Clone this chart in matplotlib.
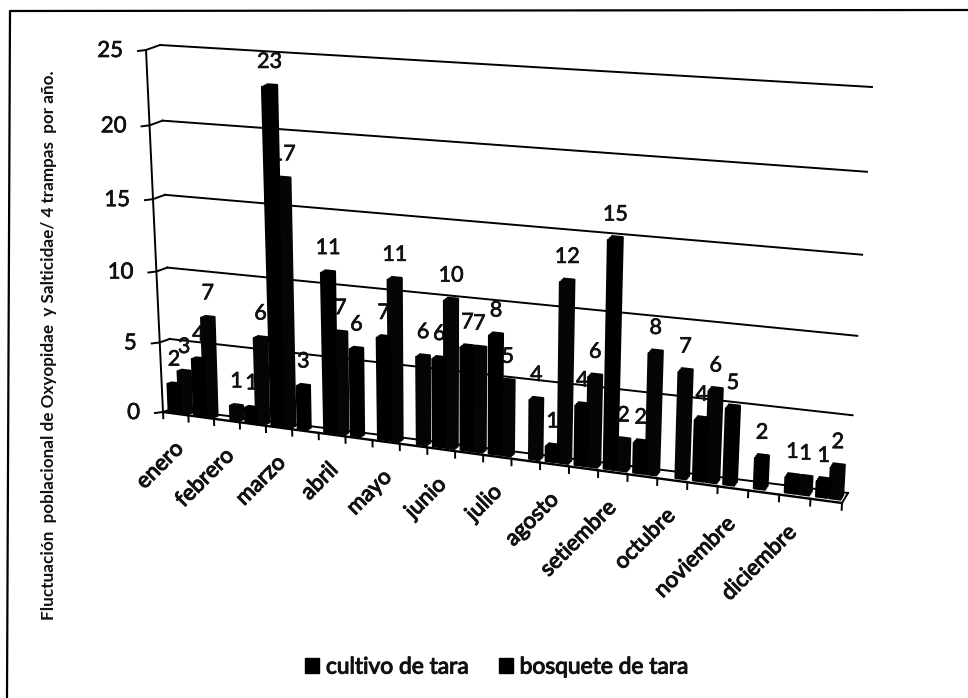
import numpy as np
import matplotlib
matplotlib.use('Agg')
import matplotlib.pyplot as plt
import matplotlib.patheffects as pe
from matplotlib.patches import Rectangle
from matplotlib.transforms import Transform

plt.rcParams['font.family'] = ['Lato', 'DejaVu Sans']

# ── data: 24 slots, only every second one carries a month name ─────────────
months = ['enero', 'febrero', 'marzo', 'abril', 'mayo', 'junio', 'julio',
          'agosto', 'setiembre', 'octubre', 'noviembre', 'diciembre']
cultivo = [2, 4, 0, 1, 23, 3, 11, 6, 7, 0, 6, 7, 8, 0, 1, 4, 15, 2, 0, 4, 5, 2, 1, 1]
bosquete = [3, 7, 1, 6, 17, 0, 7, 0, 11, 6, 10, 7, 5, 4, 12, 6, 2, 8, 7, 6, 0, 0, 1, 2]
y_ticks = [0, 5, 10, 15, 20, 25]

N_SLOTS = len(cultivo)
Y_MAX = y_ticks[-1]

# pixel corners of the fake 3D box: (x=0,y=0), (x=max,y=0), (x=max,y=max), (x=0,y=max)
FRONT = [(163, 412), (842, 503), (862, 100), (146, 50)]
BACK = [(172, 409), (848, 493), (872, 87), (160, 45)]


def homography(corners):
    src = [(0, 0), (N_SLOTS, 0), (N_SLOTS, Y_MAX), (0, Y_MAX)]
    A, b = [], []
    for (x, y), (u, v) in zip(src, corners):
        A.append([x, y, 1, 0, 0, 0, -u * x, -u * y])
        A.append([0, 0, 0, x, y, 1, -v * x, -v * y])
        b += [u, v]
    return np.append(np.linalg.solve(np.array(A, float), np.array(b, float)), 1).reshape(3, 3)


class Persp(Transform):
    """(slot, value) -> picture pixels, on a plane at depth z (0 front, 1 back)."""
    input_dims = 2
    output_dims = 2
    is_separable = False
    has_inverse = False

    def __init__(self, z):
        super().__init__()
        self.z = z
        self.hf = homography(FRONT)
        self.hb = homography(BACK)

    def transform_non_affine(self, values):
        pts = np.c_[values, np.ones(len(values))]
        f = pts @ self.hf.T
        b = pts @ self.hb.T
        f = f[:, :2] / f[:, 2:]
        b = b[:, :2] / b[:, 2:]
        return (1 - self.z) * f + self.z * b


fig = plt.figure(figsize=(9.68, 6.98), dpi=100, facecolor='white')
ax = fig.add_axes([0, 0, 1, 1])
ax.set_xlim(0, 968)
ax.set_ylim(698, 0)
ax.set_autoscale_on(False)
ax.axis('off')

tr_front = Persp(0) + ax.transData
tr_back = Persp(1) + ax.transData
LW = 1.4
# the scan thickens every glyph a little
thick = [pe.withStroke(linewidth=0.5, foreground='#111111')]
thicker = [pe.withStroke(linewidth=0.8, foreground='#111111')]

# only the left and top edges of the pasted frame are in the scan
ax.plot([7, 10, 968], [698, 11, 10], color='black', lw=1.6, zorder=1)

# ── walls ───────────────────────────────────────────────────────────────────
for v in y_ticks:
    ax.plot([0, N_SLOTS], [v, v], color='black', lw=LW, transform=tr_back, zorder=1)
    p0 = Persp(0).transform(np.array([[0.0, v]]))[0]
    p1 = Persp(1).transform(np.array([[0.0, v]]))[0]
    ax.plot([p0[0] - 8, p0[0], p1[0]], [p0[1] + 1, p0[1], p1[1]], color='black', lw=LW, zorder=1)
    ax.text(p0[0] - 23, p0[1] + 1, str(v), ha='right', va='center', fontsize=16,
            color='#111111', path_effects=thick)

ax.plot([0, 0], [0, Y_MAX], color='black', lw=LW, transform=tr_front, zorder=1)
ax.plot([0, N_SLOTS], [0, 0], color='black', lw=LW + 0.3, transform=tr_front, zorder=1)
for i in range(N_SLOTS + 1):
    ax.plot([i, i], [0, -0.45], color='black', lw=LW, transform=tr_front, zorder=1)
p0 = Persp(0).transform(np.array([[float(N_SLOTS), 0.0]]))[0]
p1 = Persp(1).transform(np.array([[float(N_SLOTS), 0.0]]))[0]
ax.plot([p0[0], p1[0]], [p0[1], p1[1]], color='black', lw=LW, zorder=1)

# ── bars: same black box stacked over a few depths for the 3D look ──────────
slots = np.arange(N_SLOTS)
BAR_W = 0.36
OFF_C, OFF_B = 0.30, 0.72
for z in (0.3, 0.5, 0.7):
    tr = Persp(z) + ax.transData
    for offs, vals, col in ((OFF_C, cultivo, '#000000'), (OFF_B, bosquete, '#050505')):
        shown = np.array(vals, float)
        keep = shown > 0
        ax.bar(slots[keep] + offs, shown[keep], BAR_W, color=col, edgecolor=col, lw=1.6,
               joinstyle='round', transform=tr, zorder=3)

# ── value labels sit under the bars, so tall bars clip their neighbours' text ──
tr_mid = Persp(0.5) + ax.transData
for offs, vals in ((OFF_C, cultivo), (OFF_B, bosquete)):
    for s, v in zip(slots, vals):
        if v == 0:
            continue
        ax.annotate(str(v), xy=(s + offs, v), xycoords=tr_mid, xytext=(0, 24),
                    textcoords='offset pixels', ha='center', va='center',
                    fontsize=15.5, color='#111111', path_effects=thick, zorder=2)

# ── month names on every second tick, drifting left along the axis ──────────
for i, m in enumerate(months):
    ax.annotate(m, xy=(2 * i + 1, 0), xycoords=tr_front, xytext=(-8 - 0.8 * i, -30),
                textcoords='offset pixels', rotation=45, rotation_mode='anchor',
                ha='right', va='center', fontsize=16, color='#111111', path_effects=thicker)

ax.text(49, 345, 'Fluctuación  poblacional de Oxyopidae  y Salticidae/ 4 trampas  por año.',
        rotation=90, ha='center', va='center', fontsize=12.3, fontweight='bold', color='#111111')

# ── legend ──────────────────────────────────────────────────────────────────
handles = [Rectangle((0, 0), 1, 1, color='black'), Rectangle((0, 0), 1, 1, color='black')]
leg = ax.legend(handles, ['cultivo de tara', 'bosquete de tara'], ncol=2, frameon=False,
                loc='center', bbox_to_anchor=(497, 667), bbox_transform=ax.transData,
                fontsize=16.4, handlelength=0.62, handleheight=0.62, handletextpad=0.3,
                columnspacing=1.3)
for t in leg.get_texts():
    t.set_color('#111111')
    t.set_path_effects(thicker)

fig.savefig('out.png', dpi=100, facecolor='white')
